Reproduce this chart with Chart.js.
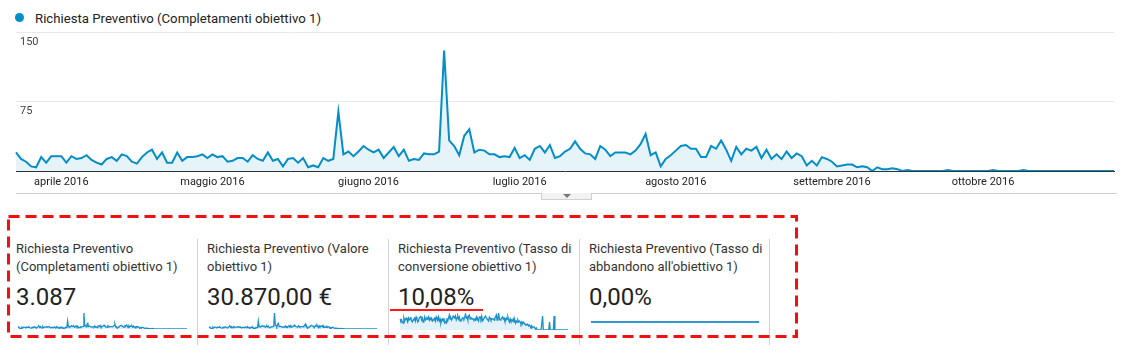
<!DOCTYPE html>
<html><head><meta charset="utf-8">
<script src="https://cdn.jsdelivr.net/npm/chart.js@4.4.0/dist/chart.umd.min.js"></script>
<style>
html,body{margin:0;padding:0;background:#fff;}
body{width:1124px;height:358px;position:relative;overflow:hidden;font-family:Roboto, Arial, sans-serif;}
.abs{position:absolute;}
#legend{left:35px;top:10px;font-size:13.2px;color:#222;line-height:18px;white-space:nowrap;}
#dot{left:15px;top:13px;width:9px;height:9px;border-radius:50%;background:#058dc7;}
.card-title{font-size:13px;line-height:18px;color:#333;white-space:nowrap;}
.card-value{font-size:24px;line-height:24px;color:#222;white-space:nowrap;}
.vline{width:1px;background:#d4d4d4;top:239px;height:106px;}
canvas{position:absolute;}
</style></head>
<body>
<div id="dot" class="abs"></div>
<div id="legend" class="abs">Richiesta Preventivo (Completamenti obiettivo 1)</div>
<canvas id="main" width="1124" height="200" style="left:0;top:0"></canvas>
<div class="abs" style="left:16px;top:193px;width:1101px;height:1px;background:#cfcfcf"></div>
<div class="abs" style="left:541px;top:193px;width:49px;height:6px;border:1px solid #cfcfcf;border-top:none;background:#f2f2f2"></div>
<div class="abs" style="left:563px;top:194px;width:0;height:0;border-left:4px solid transparent;border-right:4px solid transparent;border-top:4px solid #777"></div>

<div id="cards"></div>
<canvas id="s1" width="173" height="20" style="left:16px;top:311px"></canvas>
<canvas id="s2" width="172" height="20" style="left:207px;top:311px"></canvas>
<canvas id="s3" width="172" height="21" style="left:398px;top:311px"></canvas>
<canvas id="s4" width="172" height="20" style="left:589px;top:312px"></canvas>
<div class="abs" style="left:390px;top:309px;width:93px;height:2px;background:#ff1a1a"></div>
<svg class="abs" style="left:0;top:0" width="1124" height="358">
  <rect x="8.5" y="216.5" width="788" height="120" fill="none" stroke="#f01010" stroke-width="3" stroke-dasharray="11 6"/>
</svg>

<script>
// ---- data ----
const startDate = [2016, 2, 23]; // 23 marzo 2016 (first day of the series)
const monthNames = ['gennaio','febbraio','marzo','aprile','maggio','giugno','luglio','agosto','settembre','ottobre','novembre','dicembre'];
const yTicks = [0, 75, 150];

// Richiesta Preventivo (Completamenti obiettivo 1), daily
const completamenti = [
 20,13,10,5,4,15,9,16,16,16,
 9,16,13,14,17,12,9,7,13,15,
 11,18,16,10,8,15,20,23,13,20,
 9,9,20,11,15,15,16,18,14,18,
 15,16,10,11,14,14,10,17,13,11,
 20,11,13,5,13,14,9,14,4,6,
 4,14,11,13,64,18,21,16,21,27,
 23,20,23,14,20,26,16,23,11,13,
 12,19,18,18,21,130,33,27,17,38,
 45,20,23,22,18,18,15,16,15,25,
 14,17,12,24,27,20,28,14,16,21,
 24,32,24,19,18,13,27,23,16,20,
 20,20,18,22,29,40,17,20,5,13,
 17,22,27,28,24,24,15,15,27,24,
 33,23,11,26,18,24,22,26,14,23,
 13,18,13,21,14,19,16,6,11,6,
 15,13,10,5,6,7,7,4,5,4,
 0,4,2,2,3,2,0,1,0,0,
 0,0,0,0,0,1,0,0,0,0,
 0,0,0,0,1,0,0,0,0,0,
 1,0,0,0,0,0,0,0,0,0,
 0,0,0,0,0,0,0,0,0
];
// Valore obiettivo (10 € per completamento)
const valoreObiettivo = completamenti.map(v => v * 10);
// Tasso di conversione obiettivo 1 (%), daily
const tassoConversione = [
 11,9,10,8,7,12,9,11,12,10,
 8,12,10,11,13,9,8,10,11,12,
 9,13,11,8,9,12,13,14,10,12,
 8,9,13,10,11,12,11,13,10,12,
 11,12,9,10,11,12,9,13,11,10,
 13,9,11,7,10,11,9,12,7,8,
 7,11,10,12,15,11,12,10,12,14,
 13,12,14,10,12,14,11,13,9,10,
 10,12,12,11,13,16,12,13,10,14,
 15,11,12,12,11,11,10,11,10,13,
 10,11,9,13,13,11,14,9,10,12,
 12,14,12,11,11,9,13,12,10,11,
 11,11,10,12,13,15,10,12,17,11,
 10,11,12,13,11,12,9,9,12,11,
 13,10,8,11,9,10,9,11,8,10,
 7,9,8,10,8,9,8,6,8,6,
 8,7,6,5,5,6,5,4,5,4,
 2,4,3,3,3,3,1,2,0,0,
 0,0,0,0,0,14,0,0,0,0,
 0,0,0,0,8,0,0,0,0,0,
 14,0,0,0,0,0,0,0,0,0,
 0,0,0,0,0,0,0,0,0
];
// Tasso di abbandono all'obiettivo 1 (%), daily
const tassoAbbandono = completamenti.map(() => 0);

const cardTitles = [
 ['Richiesta Preventivo','(Completamenti obiettivo 1)'],
 ['Richiesta Preventivo (Valore','obiettivo 1)'],
 ['Richiesta Preventivo (Tasso di','conversione obiettivo 1)'],
 ['Richiesta Preventivo (Tasso di',"abbandono all'obiettivo 1)"]
];
const cardValues = ['3.087','30.870,00 €','10,08%','0,00%'];

// ---- build ----
const dates = completamenti.map((_, i) => new Date(Date.UTC(startDate[0], startDate[1], startDate[2] + i)));
const labels = dates.map(d => d.toISOString().slice(0,10));

const cardLeft = [16, 207, 398, 589];
const divX = [197, 388, 579, 769];
const cards = document.getElementById('cards');
cardTitles.forEach((t, i) => {
  const a = document.createElement('div');
  a.className = 'abs card-title';
  a.style.left = cardLeft[i] + 'px'; a.style.top = '240px';
  a.innerHTML = t[0] + '<br>' + t[1];
  cards.appendChild(a);
  const b = document.createElement('div');
  b.className = 'abs card-value';
  b.style.left = cardLeft[i] + 'px'; b.style.top = '285px';
  b.textContent = cardValues[i];
  cards.appendChild(b);
});
divX.forEach(x => {
  const d = document.createElement('div');
  d.className = 'abs vline'; d.style.left = x + 'px';
  cards.appendChild(d);
});

Chart.defaults.font.family = 'Roboto, Arial, sans-serif';
Chart.defaults.animation = false;

new Chart(document.getElementById('main'), {
  type: 'line',
  data: { labels, datasets: [{
    data: completamenti, borderColor: '#058dc7', borderWidth: 2,
    backgroundColor: '#e6f4f9', fill: 'origin', pointRadius: 0, tension: 0
  }]},
  options: {
    responsive: false, events: [],
    layout: { padding: { left: 16, right: 10, top: 32, bottom: 0 } },
    plugins: { legend: { display: false }, tooltip: { enabled: false } },
    scales: {
      x: {
        afterFit(s) { s.height = 29; },
        grid: { display: false, drawTicks: false },
        border: { display: true, color: '#333', width: 1 },
        ticks: {
          autoSkip: false, maxRotation: 0, minRotation: 0, padding: 5,
          color: '#222', font: { size: 11 },
          callback(v, i) {
            const d = dates[i];
            return d.getUTCDate() === 1 ? monthNames[d.getUTCMonth()] + ' ' + d.getUTCFullYear() : '';
          }
        }
      },
      y: {
        min: yTicks[0], max: yTicks[yTicks.length - 1],
        afterFit(s) { s.width = 0; },
        afterBuildTicks(s) { s.ticks = yTicks.map(v => ({ value: v })); },
        grid: { drawTicks: false, color: c => c.tick && c.tick.value === 0 ? 'rgba(0,0,0,0)' : '#e8e8e8' },
        border: { display: false },
        ticks: {
          mirror: true, padding: 4, labelOffset: 10, color: '#444', font: { size: 11 },
          callback: v => v === 0 ? '' : String(v)
        }
      }
    }
  }
});

function spark(id, data, opts) {
  new Chart(document.getElementById(id), {
    type: 'line',
    data: { labels, datasets: [{
      data, borderColor: opts.color || '#1a8fcc', borderWidth: opts.width || 1.3,
      backgroundColor: opts.fill || '#e3f1f9', fill: opts.noFill ? false : 'origin',
      pointRadius: 0, tension: 0
    }]},
    options: {
      responsive: false, events: [],
      layout: { padding: opts.pad || 2 },
      plugins: { legend: { display: false }, tooltip: { enabled: false } },
      scales: {
        x: { display: false },
        y: { display: false, min: opts.min, max: opts.max }
      }
    }
  });
}
spark('s1', completamenti, { min: 0, max: 130 });
spark('s2', valoreObiettivo, { min: 0, max: 1300 });
spark('s3', tassoConversione, { min: 0, max: 17, width: 1.3 });
spark('s4', tassoAbbandono, { min: -1, max: 1, width: 2, noFill: true, color: '#3399cc' });
</script>
</body></html>
